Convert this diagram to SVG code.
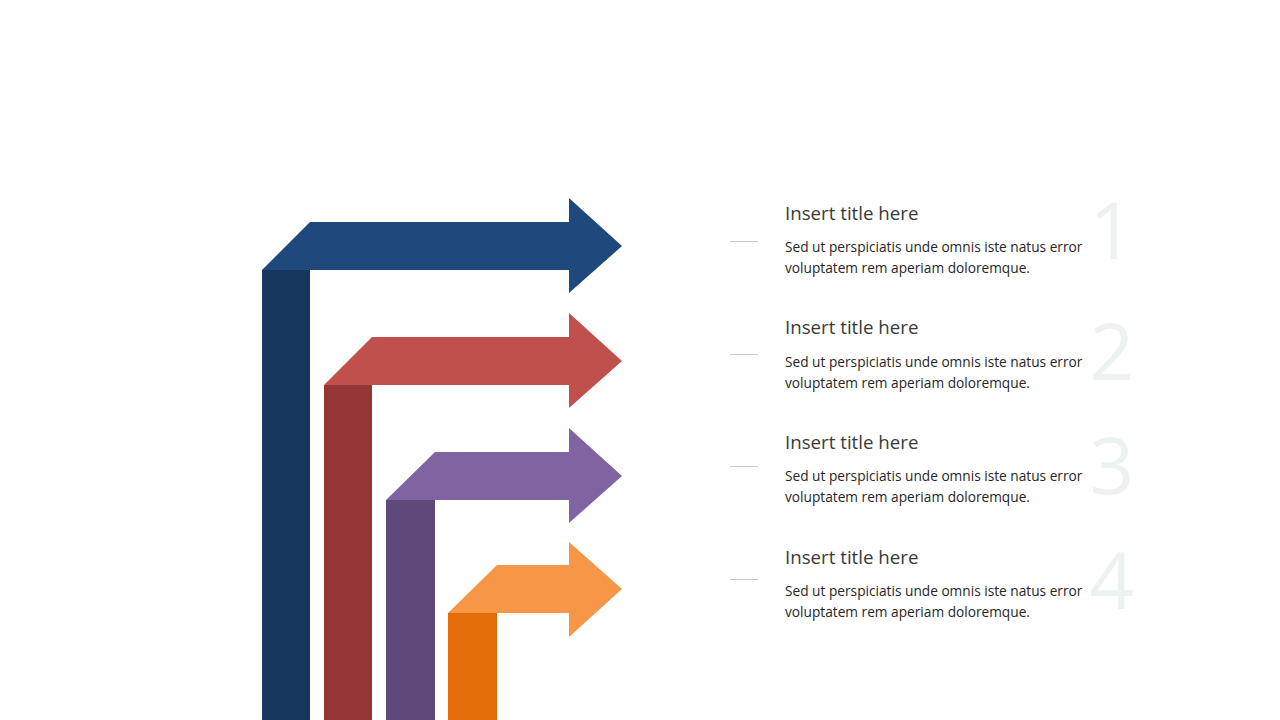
<svg xmlns="http://www.w3.org/2000/svg" width="1280" height="720" viewBox="0 0 1280 720">
<style>
.t{font-family:"Open Sans","Noto Sans","Liberation Sans",sans-serif;font-size:18.7px;fill:#3a3a3a}
.b{font-family:"Open Sans","Noto Sans","Liberation Sans",sans-serif;font-size:13.7px;fill:#262626}
.n{font-family:"Open Sans","Noto Sans","Liberation Sans",sans-serif;font-size:78px;fill:#eef1f1;text-anchor:end}
.ln{stroke:#c8c8c8;stroke-width:1}
</style>
<rect width="1280" height="720" fill="#ffffff"/>
<g id="arrow1">
<rect x="262" y="270" width="48" height="450" fill="#17365d"/>
<polygon points="262,270 310,222 569,222 569,198 622,246 569,293 569,270" fill="#1f497d"/>
</g>
<g id="arrow2">
<rect x="324" y="385" width="48" height="335" fill="#943634"/>
<polygon points="324,385 372,337 569,337 569,313 622,361 569,408 569,385" fill="#c0504d"/>
</g>
<g id="arrow3">
<rect x="386" y="500" width="49" height="220" fill="#5f497a"/>
<polygon points="386,500 435,452 569,452 569,428 622,476 569,523 569,500" fill="#8064a2"/>
</g>
<g id="arrow4">
<rect x="448" y="613" width="49" height="107" fill="#e36c09"/>
<polygon points="448,613 497,565 569,565 569,542 622,589 569,637 569,613" fill="#f79646"/>
</g>
<g id="item1">
<text class="n" x="1134" y="259">1</text>
<line class="ln" x1="730" y1="241.5" x2="758" y2="241.5"/>
<text class="t" x="785" y="220">Insert title here</text>
<text class="b" x="785" y="252">Sed ut perspiciatis unde omnis iste natus error</text>
<text class="b" x="785" y="273">voluptatem rem aperiam doloremque.</text>
</g>
<g id="item2">
<text class="n" x="1134" y="380">2</text>
<line class="ln" x1="730" y1="354.5" x2="758" y2="354.5"/>
<text class="t" x="785" y="334">Insert title here</text>
<text class="b" x="785" y="367">Sed ut perspiciatis unde omnis iste natus error</text>
<text class="b" x="785" y="388">voluptatem rem aperiam doloremque.</text>
</g>
<g id="item3">
<text class="n" x="1134" y="494">3</text>
<line class="ln" x1="730" y1="466.5" x2="758" y2="466.5"/>
<text class="t" x="785" y="449">Insert title here</text>
<text class="b" x="785" y="481">Sed ut perspiciatis unde omnis iste natus error</text>
<text class="b" x="785" y="502">voluptatem rem aperiam doloremque.</text>
</g>
<g id="item4">
<text class="n" x="1134" y="609">4</text>
<line class="ln" x1="730" y1="579.5" x2="758" y2="579.5"/>
<text class="t" x="785" y="564">Insert title here</text>
<text class="b" x="785" y="596">Sed ut perspiciatis unde omnis iste natus error</text>
<text class="b" x="785" y="617">voluptatem rem aperiam doloremque.</text>
</g>
</svg>
